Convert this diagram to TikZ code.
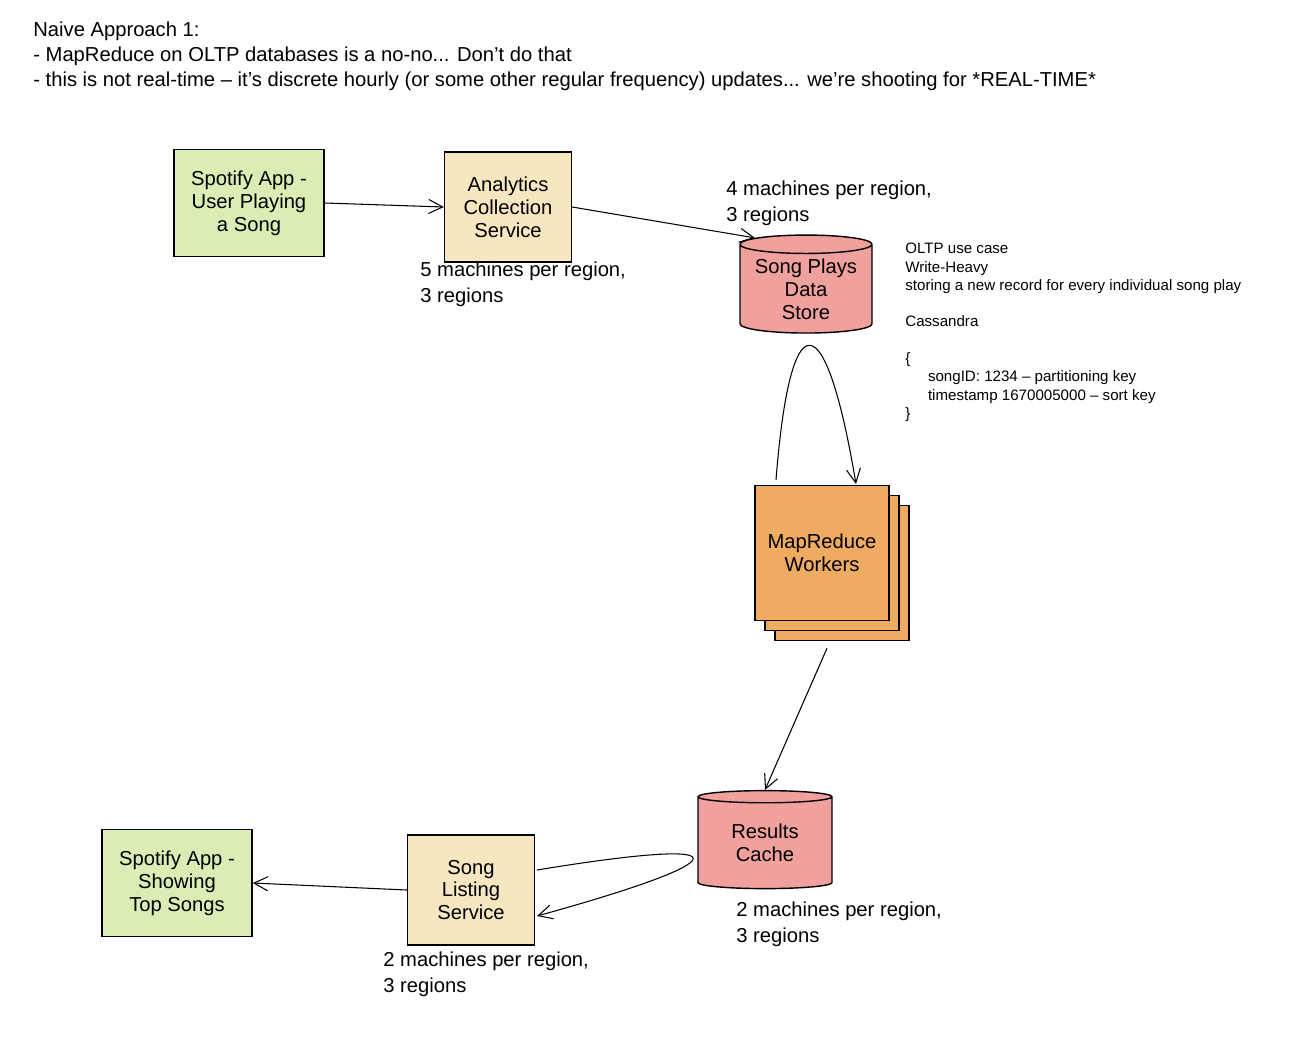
\documentclass[tikz,border=0pt]{standalone}
\usepackage{fontspec}
\setmainfont{Liberation Sans}
\usetikzlibrary{positioning,shapes.geometric,arrows.meta}
\definecolor{appgreen}{HTML}{D9EDB5}
\definecolor{svcyellow}{HTML}{F6E7C1}
\definecolor{dbred}{HTML}{F0A19E}
\definecolor{mrorange}{HTML}{F0AB62}
\begin{document}
\begin{tikzpicture}[x=0.02cm,y=-0.02cm,
  txt/.style={font=\fontsize{11.5}{14.2}\selectfont, align=left, inner sep=0pt},
  lbl/.style={font=\fontsize{11.5}{14.8}\selectfont, align=left, inner sep=0pt, anchor=north west},
  note/.style={font=\fontsize{8.6}{10.4}\selectfont, align=left, inner sep=0pt, anchor=north west},
  arr/.style={-{Straight Barb[length=8pt,width=8pt]}, semithick}]
\useasboundingbox (0,0) rectangle (1308,1058);
\tikzstyle{box}=[draw, thick, align=center, font=\fontsize{11.5}{13}\selectfont, inner sep=0pt]
\tikzstyle{db}=[draw, thick, cylinder, shape border rotate=90, aspect=0.18, fill=dbred, align=center, font=\fontsize{11.5}{13}\selectfont, inner sep=0pt]
% header
\node[txt, anchor=north west] (title) at (33,22) {Naive Approach 1:\\- MapReduce on OLTP databases is a no-no... Don't do that\\- this is not real-time -- it's discrete hourly (or some other regular frequency) updates... we're shooting for *REAL-TIME*};
% nodes
\node[box, fill=appgreen, minimum width=3cm, minimum height=2.14cm] (app) at (249,203) {Spotify App -\\User Playing\\a Song};
\node[box, fill=svcyellow, minimum width=2.54cm, minimum height=2.2cm] (acs) at (508,207) {Analytics\\Collection\\Service};
\node[db, minimum width=2.64cm, minimum height=1.96cm] (plays) at (806,289) {Song Plays\\Data\\Store};
\node[box, fill=mrorange, minimum width=2.68cm, minimum height=2.7cm] (mr3) at (842,573) {};
\node[box, fill=mrorange, minimum width=2.68cm, minimum height=2.7cm] (mr2) at (832,563) {};
\node[box, fill=mrorange, minimum width=2.68cm, minimum height=2.7cm] (mr) at (822,553) {MapReduce\\Workers};
\node[db, minimum width=2.68cm, minimum height=1.96cm] (cache) at (765,843) {Results\\Cache};
\node[box, fill=svcyellow, minimum width=2.54cm, minimum height=2.2cm] (sls) at (471,890) {Song\\Listing\\Service};
\node[box, fill=appgreen, minimum width=3cm, minimum height=2.14cm] (top) at (177,883) {Spotify App -\\Showing\\Top Songs};
% labels
\node[lbl] (acsl) at (420,262) {5 machines per region,\\3 regions};
\node[lbl] (playsl) at (726,181) {4 machines per region,\\3 regions};
\node[lbl] (cachel) at (736,901) {2 machines per region,\\3 regions};
\node[lbl] (slsl) at (383,951) {2 machines per region,\\3 regions};
\node[note] (notes) at (905,243) {OLTP use case\\Write-Heavy\\storing a new record for every individual song play\\[10.4pt]Cassandra\\[10.4pt]\{\\\hspace*{1.5em}songID: 1234 -- partitioning key\\\hspace*{1.5em}timestamp 1670005000 -- sort key\\\}};
% connectors
\coordinate (mrin) at (776,480);
\coordinate (mrout) at (856,484);
\coordinate (slsin) at (537,870);
\coordinate (slsout) at (537,916);
\draw[arr] (app.east) -- (acs.west);
\draw[arr] (acs.east) -- (plays.north west);
\draw[arr] (mrin) .. controls (790,300) and (825,300) .. (mrout);
\draw[arr] (mr.south) ++(5,27) -- (cache.north);
\draw[arr] (slsin) .. controls (750,835) and (740,860) .. (slsout);
\draw[arr] (sls.west) -- (top.east);
\end{tikzpicture}
\end{document}
